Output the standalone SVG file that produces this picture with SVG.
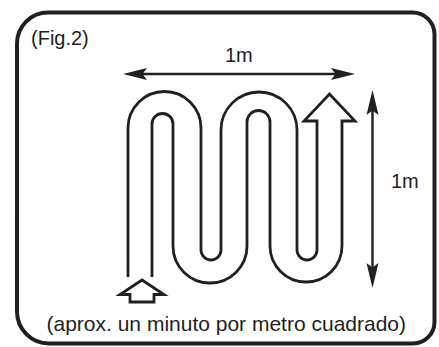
<svg xmlns="http://www.w3.org/2000/svg" width="439" height="347" viewBox="0 0 439 347">
  <style>
    .txt { font-family: "Liberation Sans", Arial, sans-serif; font-size: 20px; fill: #231f20; }
    .wall { fill: none; stroke: #231f20; stroke-width: 2.8; stroke-linejoin: miter; }
    .dim { fill: none; stroke: #231f20; stroke-width: 2.4; }
    .head { fill: #231f20; stroke: none; }
  </style>
  <rect width="439" height="347" fill="#ffffff"/>
  <g id="frame">
    <path d="M48,12.5 H412.5 A22,22 0 0 1 434.5,34.5 V322 A21.5,21.5 0 0 1 413,343.5 H49 A32,32 0 0 1 17,311.5 V43.5 A31,31 0 0 1 48,12.5 Z" fill="none" stroke="#231f20" stroke-width="4"/>
  </g>
  <g id="title">
    <text class="txt" x="31" y="45">(Fig.2)</text>
  </g>
  <g id="connectors">
    <g id="width-dimension">
      <line class="dim" x1="138" y1="74" x2="340" y2="74"/>
      <path class="head" d="M123,74 L147,68 L142.5,74 L147,80 Z"/>
      <path class="head" d="M355,74 L331,68 L335.5,74 L331,80 Z"/>
    </g>
    <g id="height-dimension">
      <line class="dim" x1="372.5" y1="105" x2="372.5" y2="273"/>
      <path class="head" d="M372.5,90 L366.5,115 L372.5,110.5 L378.5,115 Z"/>
      <path class="head" d="M372.5,288 L366.5,263 L372.5,267.5 L378.5,263 Z"/>
    </g>
  </g>
  <g id="label-width">
    <text class="txt" x="225" y="62">1m</text>
  </g>
  <g id="label-height">
    <text class="txt" x="391" y="188">1m</text>
  </g>
  <g id="serpentine">
    <path class="wall" d="M128,277 V128 A36.5,36.5 0 0 1 201,128 V250 A10,10 0 0 0 221,250 V130 A38,38 0 0 1 297,130 V250 A10,10 0 0 0 317,250 V121 H304 L329.5,94 L355,121 H342 V246 A36,36 0 0 1 270,246 V122 A11.5,11.5 0 0 0 247,122 V246 A37,37 0 0 1 173,246 V124 A10.5,10.5 0 0 0 152,124 V277"/>
  </g>
  <g id="start-arrow">
    <path class="wall" d="M142,280 L164,294.5 H154 V302 H130 V294.5 H120 Z"/>
  </g>
  <g id="caption">
    <text class="txt" x="46.5" y="331" style="font-size:21px">(aprox. un minuto por metro cuadrado)</text>
  </g>
</svg>
